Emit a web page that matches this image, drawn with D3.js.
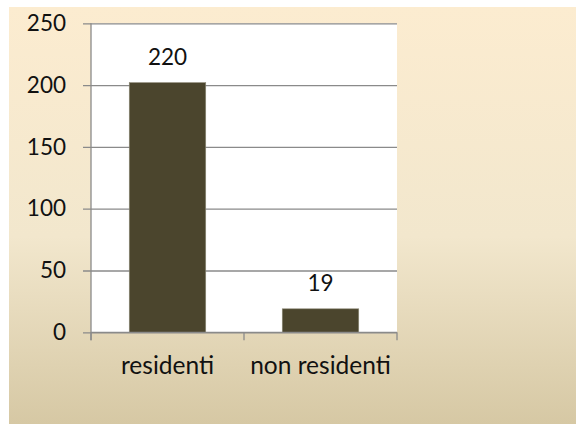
<!DOCTYPE html>
<html>
<head>
<meta charset="utf-8">
<script src="https://cdn.jsdelivr.net/npm/d3@7"></script>
<style>
  body { margin: 0; background: #fff; }
  svg text { font-family: Lato, "Noto Sans", sans-serif; fill: #111; }
</style>
</head>
<body>
<svg id="chart" width="576" height="424"></svg>
<script>
// data
var categories = ["residenti", "non residenti"];
var barValues = [202, 19];       // bar heights as drawn
var barLabels = ["220", "19"];   // data labels as printed
var yTicks = [0, 50, 100, 150, 200, 250];

var svg = d3.select("#chart");
var margin = { left: 91, top: 23.3, right: 179, bottom: 91.7 };
var width = 576 - margin.left - margin.right;
var height = 424 - margin.top - margin.bottom;

// background gradient
var defs = svg.append("defs");
var grad = defs.append("linearGradient")
    .attr("id", "bg")
    .attr("x1", 0).attr("y1", 0).attr("x2", 0).attr("y2", 1);
grad.append("stop").attr("offset", "0%").attr("stop-color", "#fcecd0");
grad.append("stop").attr("offset", "55%").attr("stop-color", "#f2e7cd");
grad.append("stop").attr("offset", "100%").attr("stop-color", "#d6c8a4");

svg.append("rect")
    .attr("x", 9).attr("y", 7)
    .attr("width", 576 - 9).attr("height", 424 - 7)
    .attr("fill", "url(#bg)");

var g = svg.append("g")
    .attr("transform", "translate(" + margin.left + "," + margin.top + ")");

var x = d3.scaleBand()
    .domain(categories)
    .range([0, width])
    .paddingInner(0.5)
    .paddingOuter(0.25);

var y = d3.scaleLinear()
    .domain([0, 250])
    .range([height, 0]);

// plot area
g.append("rect")
    .attr("width", width).attr("height", height)
    .attr("fill", "#fff");

// y axis with gridlines
var yAxis = g.append("g")
    .call(d3.axisLeft(y).tickValues(yTicks).tickSize(-width).tickPadding(25));
yAxis.select(".domain").remove();
yAxis.selectAll(".tick line")
    .attr("x1", -8)
    .attr("stroke", "#8a8a8a")
    .attr("stroke-width", 1.3);
yAxis.selectAll(".tick text")
    .attr("font-size", 22.5)
    .attr("fill", "#111");

// vertical axis line
g.append("line")
    .attr("x1", 0).attr("x2", 0)
    .attr("y1", 0).attr("y2", height + 8)
    .attr("stroke", "#8a8a8a")
    .attr("stroke-width", 1.3);

// bars
g.selectAll(".bar")
    .data(barValues)
    .enter()
    .append("rect")
    .attr("class", "bar")
    .attr("x", function (d, i) { return x(categories[i]); })
    .attr("y", function (d) { return y(d); })
    .attr("width", x.bandwidth())
    .attr("height", function (d) { return height - y(d); })
    .attr("fill", "#4b452d")
    .attr("stroke", "#8f8a78")
    .attr("stroke-width", 0.6);

// data labels
g.selectAll(".lbl")
    .data(barValues)
    .enter()
    .append("text")
    .attr("class", "lbl")
    .attr("x", function (d, i) { return x(categories[i]) + x.bandwidth() / 2; })
    .attr("y", function (d) { return y(d) - 18; })
    .attr("text-anchor", "middle")
    .attr("font-size", 22.5)
    .text(function (d, i) { return barLabels[i]; });

// x axis
var xAxis = g.append("g")
    .attr("transform", "translate(0," + height + ")")
    .call(d3.axisBottom(x).tickSize(0).tickPadding(24));
xAxis.select(".domain").remove();
xAxis.selectAll(".tick text")
    .attr("font-size", 24.5)
    .attr("fill", "#111");

// category boundary ticks
var bounds = d3.range(categories.length + 1).map(function (i) { return i * x.step(); });
g.append("line")
    .attr("x1", 0).attr("x2", width)
    .attr("y1", height).attr("y2", height)
    .attr("stroke", "#8a8a8a")
    .attr("stroke-width", 1.3);
g.selectAll(".xtick")
    .data(bounds)
    .enter()
    .append("line")
    .attr("class", "xtick")
    .attr("x1", function (d) { return d; })
    .attr("x2", function (d) { return d; })
    .attr("y1", height)
    .attr("y2", height + 8)
    .attr("stroke", "#8a8a8a")
    .attr("stroke-width", 1.3);
</script>
</body>
</html>
